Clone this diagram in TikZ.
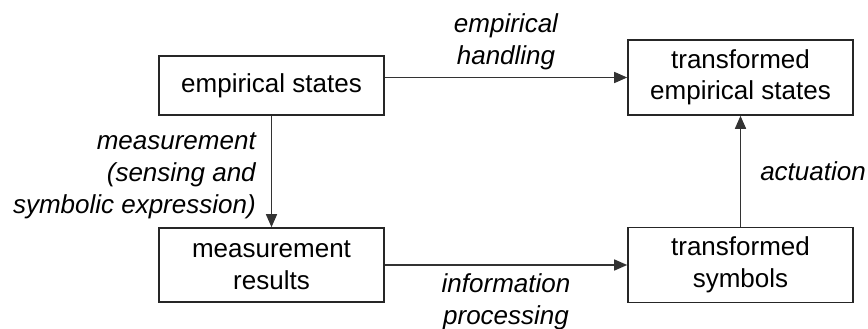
\documentclass[tikz,border=0pt]{standalone}
\usepackage{fontspec}
\setmainfont{Liberation Sans}
\usetikzlibrary{arrows.meta}
\begin{document}
\begin{tikzpicture}[x=1pt,y=-1pt,
  every node/.style={font=\fontsize{26}{31.5}\selectfont},
  box/.style={draw=black!85, line width=1.6pt, minimum width=225pt, align=center, inner sep=0pt},
  conn/.style={draw=black!80, line width=1.5pt, -{Triangle[length=13pt,width=11pt]}},
  lbl/.style={font=\fontsize{26}{32}\selectfont\itshape, inner sep=0pt}
]
\useasboundingbox (0,0) rectangle (868,329);
\node[box, minimum height=59pt] (es) at (271.5,85.5) {empirical states};
\node[box, minimum height=75pt] (tes) at (740.5,77.5) {transformed\\empirical states};
\node[box, minimum height=74pt] (mr) at (271.5,265) {measurement\\results};
\node[box, minimum height=75pt] (ts) at (740.5,265) {transformed\\symbols};
\draw[conn] (es.east |- tes) -- node[lbl, above=7pt, align=center] {empirical\\handling} (tes.west);
\draw[conn] (es) -- node[lbl, left=15pt, yshift=-4pt, align=right] {measurement\\(sensing and\\symbolic expression)} (mr);
\draw[conn] (mr) -- node[lbl, below=8pt, align=center] {information\\processing} (ts);
\draw[conn] (ts) -- node[lbl, right=19pt] {actuation} (tes);
\end{tikzpicture}
\end{document}
